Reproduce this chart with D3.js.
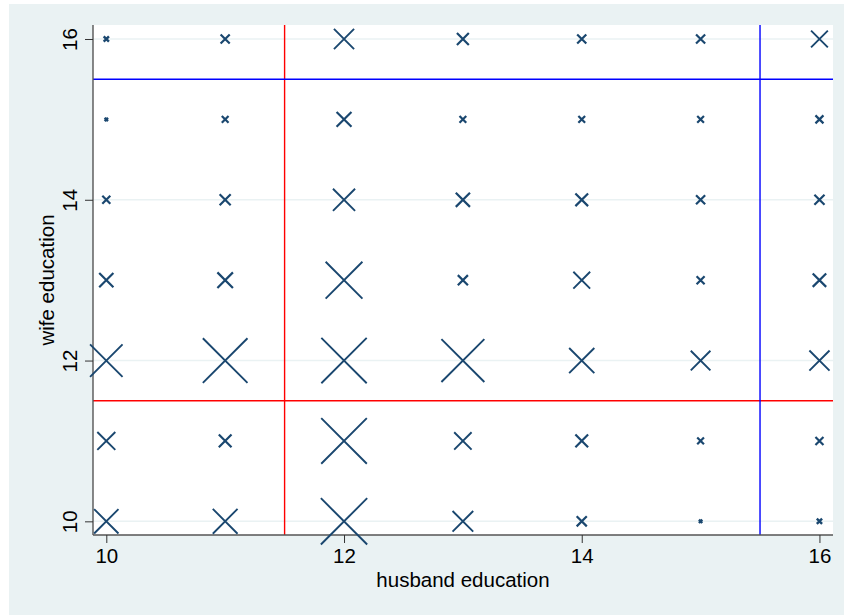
<!DOCTYPE html>
<html>
<head>
<meta charset="utf-8">
<script src="https://cdn.jsdelivr.net/npm/d3@7"></script>
<style>
  html, body { margin: 0; padding: 0; background: #ffffff; }
  svg { display: block; }
  text { font-family: "Liberation Sans", Arial, Helvetica, sans-serif; fill: #000; }
</style>
</head>
<body>
<svg id="chart" width="844" height="615"></svg>
<script>
// Years of schooling for husbands (columns) and wives (rows)
const husbandEdu = [10, 11, 12, 13, 14, 15, 16];
const wifeEdu = [10, 11, 12, 13, 14, 15, 16];

// Number of couples in each cell, one row per wife education level
const freqWife10 = [30, 31, 103, 22, 6, 1, 2];
const freqWife11 = [17, 9, 100, 16, 9, 3, 4];
const freqWife12 = [52, 96, 99, 89, 32, 20, 21];
const freqWife13 = [11, 13, 66, 6, 15, 4, 10];
const freqWife14 = [4, 7, 25, 11, 9, 5, 6];
const freqWife15 = [1, 3, 12, 3, 3, 3, 4];
const freqWife16 = [2, 5, 21, 8, 5, 5, 15];
const freqRows = [freqWife10, freqWife11, freqWife12, freqWife13, freqWife14, freqWife15, freqWife16];

// Axis ticks and cut-off reference lines
const xTicks = [10, 12, 14, 16];
const yTicks = [10, 12, 14, 16];
const redCut = 11.5;
const blueCut = 15.5;

const points = [];
wifeEdu.forEach((w, i) => {
  husbandEdu.forEach((h, j) => {
    points.push({ husband: h, wife: w, freq: freqRows[i][j] });
  });
});

const svg = d3.select("#chart");
const plot = { left: 93, right: 833, top: 25, bottom: 535 };
const fontSize = 20.5;

// Outer graph region
svg.append("rect").attr("x", 9).attr("y", 4).attr("width", 835).attr("height", 611)
  .attr("fill", "#eaf2f3");
// Plot region
svg.append("rect").attr("x", plot.left).attr("y", plot.top)
  .attr("width", plot.right - plot.left).attr("height", plot.bottom - plot.top)
  .attr("fill", "#ffffff");

const x = d3.scaleLinear().domain([9.888, 16.114]).range([plot.left, plot.right]);
const y = d3.scaleLinear().domain([9.83, 16.174]).range([plot.bottom, plot.top]);
// marker width grows with the square root of the count (area ∝ count)
const size = d3.scaleSqrt().domain([0, 100]).range([0, 47]);

// Horizontal grid lines
svg.append("g").selectAll("line").data(yTicks).join("line")
  .attr("x1", plot.left).attr("x2", plot.right)
  .attr("y1", d => y(d)).attr("y2", d => y(d))
  .attr("stroke", "#eaf2f3").attr("stroke-width", 1.5);

// Reference lines
const refs = [
  { v: redCut, color: "#ff0000" },
  { v: blueCut, color: "#0000ff" }
];
const refG = svg.append("g");
refs.forEach(r => {
  refG.append("line").attr("x1", x(r.v)).attr("x2", x(r.v))
    .attr("y1", plot.top).attr("y2", plot.bottom)
    .attr("stroke", r.color).attr("stroke-width", 1.4);
  refG.append("line").attr("x1", plot.left).attr("x2", plot.right)
    .attr("y1", y(r.v)).attr("y2", y(r.v))
    .attr("stroke", r.color).attr("stroke-width", 1.4);
});

// Axes
const xAxis = d3.axisBottom(x).tickValues(xTicks).tickFormat(d3.format("d"))
  .tickSize(8).tickPadding(5).tickSizeOuter(0);
const gx = svg.append("g").attr("transform", `translate(0,${plot.bottom})`).call(xAxis);
gx.select(".domain").attr("stroke", "#555555").attr("stroke-width", 1.4)
  .attr("d", `M${plot.left},0H${plot.right}`);
gx.selectAll(".tick line").attr("stroke", "#333333").attr("stroke-width", 1);
gx.selectAll(".tick text").attr("font-size", fontSize).attr("fill", "#000")
  .attr("font-family", "'Liberation Sans', Arial, sans-serif");

const yAxis = d3.axisLeft(y).tickValues(yTicks).tickFormat(d3.format("d"))
  .tickSize(8).tickSizeOuter(0);
const gy = svg.append("g").attr("transform", `translate(${plot.left},0)`).call(yAxis);
gy.select(".domain").attr("stroke", "#555555").attr("stroke-width", 1.4)
  .attr("d", `M0,${plot.top}V${plot.bottom}`);
gy.selectAll(".tick line").attr("stroke", "#333333").attr("stroke-width", 1);
// vertical tick labels, reading bottom to top
gy.selectAll(".tick text").remove();
gy.selectAll(".tick").append("text")
  .attr("font-size", fontSize).attr("fill", "#000")
  .attr("font-family", "'Liberation Sans', Arial, sans-serif")
  .attr("text-anchor", "middle")
  .attr("transform", "translate(-16,0) rotate(-90)")
  .text(d => d3.format("d")(d));

// Axis titles
svg.append("text")
  .attr("x", (plot.left + plot.right) / 2).attr("y", 587)
  .attr("text-anchor", "middle").attr("font-size", fontSize)
  .text("husband education");
svg.append("text")
  .attr("transform", `translate(54,${(plot.top + plot.bottom) / 2}) rotate(-90)`)
  .attr("text-anchor", "middle").attr("font-size", fontSize)
  .text("wife education");

// Weighted X markers
const markers = svg.append("g");
markers.selectAll("path").data(points).join("path")
  .attr("transform", d => `translate(${x(d.husband)},${y(d.wife)})`)
  .attr("d", d => {
    const r = Math.max(size(d.freq) / 2 - 0.7, 1.2);
    return `M${-r},${-r}L${r},${r}M${-r},${r}L${r},${-r}`;
  })
  .attr("fill", "none")
  .attr("stroke", "#1a476f")
  .attr("stroke-width", d => d.freq <= 2 ? 2.4 : (d.freq < 15 ? 2.2 : 1.9));
</script>
</body>
</html>
